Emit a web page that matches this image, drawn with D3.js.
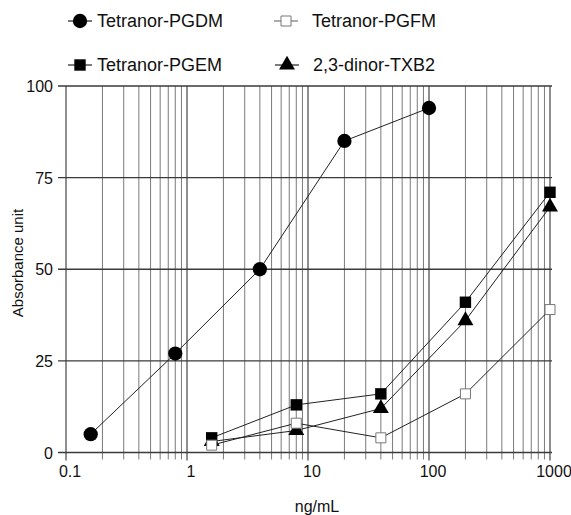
<!DOCTYPE html>
<html>
<head>
<meta charset="utf-8">
<script src="https://cdn.jsdelivr.net/npm/d3@7"></script>
<style>
  html, body { margin: 0; padding: 0; background: #fff; }
  svg { display: block; font-family: "Liberation Sans", Arial, sans-serif; }
</style>
</head>
<body>
<svg id="chart" width="571" height="515"></svg>
<script>
// ---- data ----
const seriesNames = ["Tetranor-PGDM", "Tetranor-PGFM", "Tetranor-PGEM", "2,3-dinor-TXB2"];
const concGDM = [0.16, 0.8, 4, 20, 100];
const concOther = [1.6, 8, 40, 200, 1000];
const valPGDM = [5, 27, 50, 85, 94];
const valPGFM = [2, 8, 4, 16, 39];
const valPGEM = [4, 13, 16, 41, 71];
const valTXB2 = [3, 6, 12, 36, 67];
const xTickLabels = ["0.1", "1", "10", "100", "1000"];
const yTickValues = [0, 25, 50, 75, 100];

const svg = d3.select("#chart");
const x = d3.scaleLog().domain([0.1, 1000]).range([66, 550]);
const y = d3.scaleLinear().domain([0, 100]).range([452.5, 86]);

// gridlines - vertical (minor + major)
const minorTicks = [];
for (let e = -1; e < 3; e++) {
  for (let m = 2; m <= 9; m++) minorTicks.push(m * Math.pow(10, e));
}
const majorTicks = xTickLabels.map(Number);
const grid = svg.append("g");
grid.selectAll("line.vminor").data(minorTicks).join("line")
  .attr("x1", d => x(d)).attr("x2", d => x(d))
  .attr("y1", y(100)).attr("y2", y(0) + 7)
  .attr("stroke", "#7a7a7a").attr("stroke-width", 1);
grid.selectAll("line.vmajor").data(majorTicks).join("line")
  .attr("x1", d => x(d)).attr("x2", d => x(d))
  .attr("y1", y(100)).attr("y2", y(0) + 8)
  .attr("stroke", "#444").attr("stroke-width", 1.2);
grid.selectAll("line.h").data(yTickValues).join("line")
  .attr("x1", 58).attr("x2", x(1000) + 2)
  .attr("y1", d => y(d)).attr("y2", d => y(d))
  .attr("stroke", "#3a3a3a").attr("stroke-width", 1.3);

// axis labels
svg.append("g").selectAll("text").data(majorTicks).join("text")
  .attr("x", d => x(d) + 4).attr("y", 477)
  .attr("text-anchor", "middle").attr("font-size", 16).attr("fill", "#111")
  .text((d, i) => xTickLabels[i]);
svg.append("g").selectAll("text").data(yTickValues).join("text")
  .attr("x", 53).attr("y", d => y(d) + 6)
  .attr("text-anchor", "end").attr("font-size", 16).attr("fill", "#111")
  .text(d => d);

svg.append("text").attr("x", 317).attr("y", 512)
  .attr("text-anchor", "middle").attr("font-size", 16).attr("fill", "#111")
  .text("ng/mL");
svg.append("text").attr("transform", "translate(23,263) rotate(-90)")
  .attr("text-anchor", "middle").attr("font-size", 15).attr("fill", "#111")
  .text("Absorbance unit");

// series
const series = [
  { name: seriesNames[0], xs: concGDM, ys: valPGDM, sym: "circle" },
  { name: seriesNames[2], xs: concOther, ys: valPGEM, sym: "square" },
  { name: seriesNames[3], xs: concOther, ys: valTXB2, sym: "triangle" },
  { name: seriesNames[1], xs: concOther, ys: valPGFM, sym: "open" }
];
const line = d3.line().x(d => x(d[0])).y(d => y(d[1]));
const symGen = {
  circle: d3.symbol().type(d3.symbolCircle).size(160),
  square: d3.symbol().type(d3.symbolSquare).size(130),
  triangle: d3.symbol().type(d3.symbolTriangle).size(110),
  open: d3.symbol().type(d3.symbolSquare).size(100)
};
function styleSym(sel, sym) {
  if (sym === "open") sel.attr("fill", "#fff").attr("stroke", "#777").attr("stroke-width", 1);
  else sel.attr("fill", "#000").attr("stroke", "none");
}
series.forEach(s => {
  const pts = s.xs.map((v, i) => [v, s.ys[i]]);
  svg.append("path").datum(pts).attr("d", line)
    .attr("fill", "none").attr("stroke", "#222").attr("stroke-width", 1);
});
series.forEach(s => {
  const pts = s.xs.map((v, i) => [v, s.ys[i]]);
  svg.append("g").selectAll("path").data(pts).join("path")
    .attr("transform", d => `translate(${x(d[0])},${y(d[1])})`)
    .attr("d", symGen[s.sym]())
    .call(sel => styleSym(sel, s.sym));
});

// legend
const legend = [
  { name: seriesNames[0], sym: "circle", lx: 80, ly: 21 },
  { name: seriesNames[1], sym: "open", lx: 286, ly: 21 },
  { name: seriesNames[2], sym: "square", lx: 80, ly: 65 },
  { name: seriesNames[3], sym: "triangle", lx: 287, ly: 65 }
];
legend.forEach(l => {
  const g = svg.append("g").attr("transform", `translate(${l.lx},${l.ly})`);
  g.append("line").attr("x1", -12).attr("x2", 12).attr("y1", 0).attr("y2", 0)
    .attr("stroke", l.sym === "open" ? "#777" : "#222").attr("stroke-width", 1.2);
  g.append("path").attr("d", symGen[l.sym]()).call(sel => styleSym(sel, l.sym));
  g.append("text").attr("x", l.sym === "circle" || l.sym === "square" ? 17 : 26)
    .attr("y", 6).attr("font-size", 18).attr("fill", "#111").text(l.name);
});
</script>
</body>
</html>
